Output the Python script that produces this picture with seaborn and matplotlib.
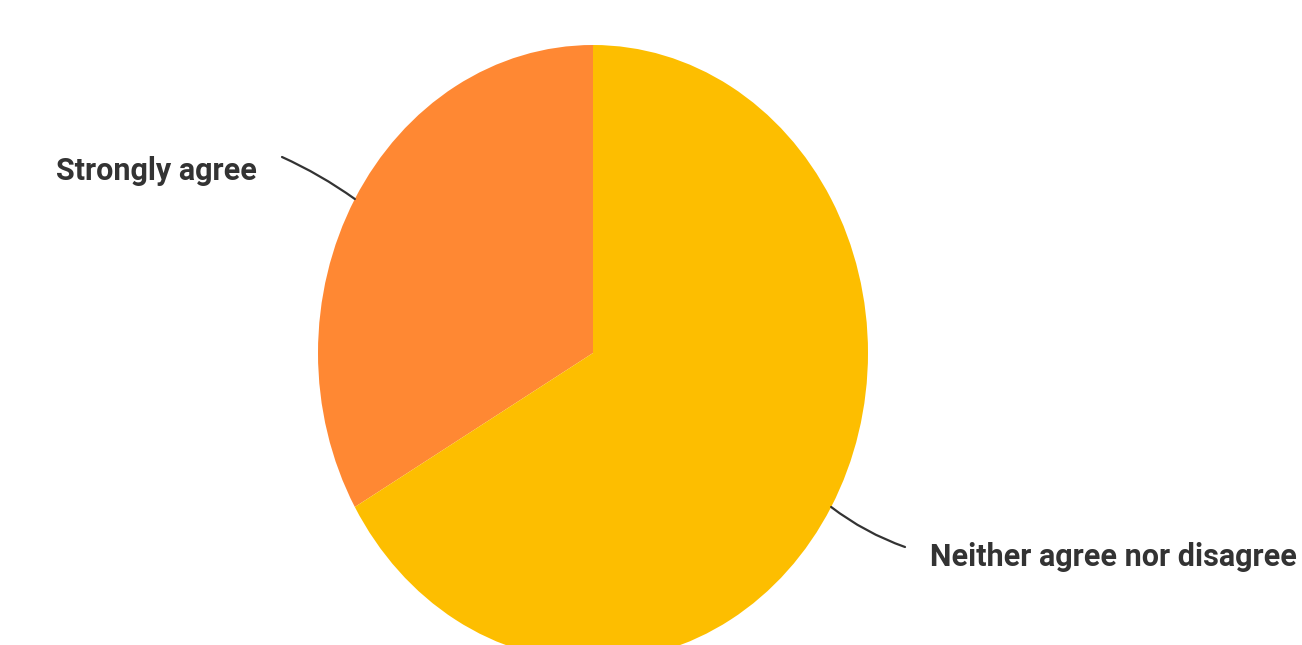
import numpy as np
import matplotlib
matplotlib.use("Agg")
import matplotlib.pyplot as plt
import seaborn as sns

categories = ["Strongly agree", "Neither agree nor disagree"]
values = [1, 2]
colors = ["#FF8833", "#FDBE00"]

sns.set_theme(style="white")
plt.rcParams['font.family'] = ['Roboto', 'DejaVu Sans']

W, H = 1302, 645
fig = plt.figure(figsize=(W / 100, H / 100), dpi=100)
cx, cy, a, b = 593, 645 - 353, 275, 308
ax = fig.add_axes([(cx - a) / W, (cy - b) / H, 2 * a / W, 2 * b / H])
wedges, _ = ax.pie(values, colors=colors, startangle=90, counterclock=True,
                   wedgeprops=dict(linewidth=0), radius=1)
ax.set_aspect('auto')
ax.set_xlim(-1, 1)
ax.set_ylim(-1, 1)
ax.axis('off')

# label positions (figure pixel coords from top)
label_text = [(257, 171, 'right'), (930, 557, 'left')]
line_end = [(282, 157), (905, 547)]
rads = [-0.05, -0.08]
for w, cat, (tx, ty, ha), (lx, ly), rad in zip(wedges, categories, label_text, line_end, rads):
    mid = np.deg2rad((w.theta1 + w.theta2) / 2)
    px, py = np.cos(mid), np.sin(mid)
    ax.annotate("", xy=(px, py), xycoords='data',
                xytext=(lx / W, 1 - ly / H), textcoords='figure fraction',
                arrowprops=dict(arrowstyle='-', color='#333333', lw=1.6,
                                shrinkA=0, shrinkB=0,
                                connectionstyle=f"arc3,rad={rad}"),
                annotation_clip=False)
    fig.text(tx / W, 1 - ty / H, cat, ha=ha, va='center', fontsize=22,
             fontweight='bold', color='#333333')

fig.savefig("out.png", dpi=100)
